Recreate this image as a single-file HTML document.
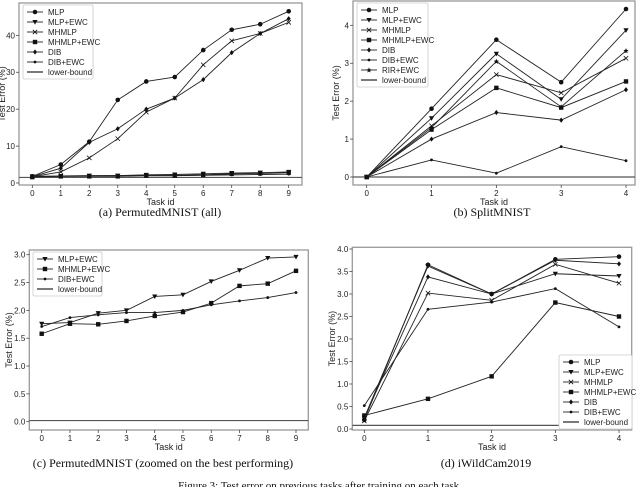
<!DOCTYPE html>
<html><head><meta charset="utf-8"><style>
body{margin:0;background:#fff;width:640px;height:487px;overflow:hidden}
svg{display:block}
.t{font-family:"Liberation Sans",sans-serif;font-size:8px;fill:#222}
.c{font-family:"Liberation Serif",serif;font-size:12px;fill:#111}
</style></head><body>
<svg id="fig" width="640" height="487" xmlns="http://www.w3.org/2000/svg">
<text class="c" x="160" y="216" text-anchor="middle">(a) PermutedMNIST (all)</text>
<text class="c" x="492" y="216" text-anchor="middle">(b) SplitMNIST</text>
<text class="c" x="163" y="467" text-anchor="middle">(c) PermutedMNIST (zoomed on the best performing)</text>
<text class="c" x="486" y="467" text-anchor="middle">(d) iWildCam2019</text>
<text class="c" x="320" y="489" text-anchor="middle" style="font-size:11px">Figure 3: Test error on previous tasks after training on each task.</text>
</svg>
<script>
// (a) PermutedMNIST all
const aTasks=[0,1,2,3,4,5,6,7,8,9];
const aMLP=[1.8,5,11.2,22.5,27.5,28.7,36,41.5,43,46.5];
const aMLPEWC=[1.8,1.9,2,2,2.2,2.3,2.5,2.7,2.8,3.0];
const aMHMLP=[1.7,3,6.8,12,19.2,23,32,38.5,40.5,43.5];
const aMHMLPEWC=[1.6,1.8,1.8,1.8,2,2,2.2,2.5,2.6,2.8];
const aDIB=[1.7,4,11,14.7,20,23,28,35.3,40.5,44.5];
const aDIBEWC=[1.7,1.8,1.9,2,2,2,2.1,2.2,2.3,2.4];
const aLower=1.5;
const aYTicks=[0,10,20,30,40];
// (b) SplitMNIST
const bTasks=[0,1,2,3,4];
const bMLP=[0,1.8,3.62,2.5,4.43];
const bMLPEWC=[0,1.55,3.25,2.05,3.87];
const bMHMLP=[0,1.35,2.7,2.22,3.13];
const bMHMLPEWC=[0,1.25,2.35,1.83,2.52];
const bDIB=[0,1.0,1.7,1.5,2.3];
const bDIBEWC=[0,0.45,0.1,0.8,0.43];
const bRIREWC=[0,1.3,3.05,1.85,3.33];
const bLower=0;
const bYTicks=[0,1,2,3,4];
// (c) zoomed
const cTasks=[0,1,2,3,4,5,6,7,8,9];
const cMLPEWC=[1.76,1.78,1.95,2.0,2.25,2.28,2.52,2.72,2.94,2.96];
const cMHMLPEWC=[1.58,1.76,1.75,1.81,1.9,1.97,2.13,2.44,2.48,2.71];
const cDIBEWC=[1.71,1.87,1.92,1.96,1.96,2.0,2.1,2.17,2.23,2.32];
const cLower=0.02;
const cYTicks=["0.0","0.5","1.0","1.5","2.0","2.5","3.0"];
// (d) iWildCam
const dTasks=[0,1,2,3,4];
const dMLP=[0.2,3.65,3.0,3.77,3.83];
const dMLPEWC=[0.25,3.62,3.0,3.45,3.4];
const dMHMLP=[0.18,3.02,2.86,3.66,3.24];
const dMHMLPEWC=[0.3,0.67,1.17,2.81,2.5];
const dDIB=[0.25,3.38,3.0,3.75,3.67];
const dDIBEWC=[0.52,2.66,2.82,3.12,2.27];
const dLower=0.08;
const dYTicks=["0.0","0.5","1.0","1.5","2.0","2.5","3.0","3.5","4.0"];

const NS='http://www.w3.org/2000/svg';
const svg=document.getElementById('fig');
function mk(tag,attrs,parent){const e=document.createElementNS(NS,tag);for(const k in attrs)e.setAttribute(k,attrs[k]);(parent||svg).appendChild(e);return e;}
function marker(g,type,x,y){
  let e;
  if(type==='o'){e=mk('circle',{cx:x,cy:y,r:2.3,fill:'#111'},g);}
  else if(type==='v'){e=mk('path',{d:`M${x-2.6},${y-2} L${x+2.6},${y-2} L${x},${y+2.6}Z`,fill:'#111'},g);}
  else if(type==='x'){e=mk('path',{d:`M${x-2.2},${y-2.2}L${x+2.2},${y+2.2}M${x-2.2},${y+2.2}L${x+2.2},${y-2.2}`,stroke:'#111','stroke-width':0.8},g);}
  else if(type==='s'){e=mk('rect',{x:x-2.2,y:y-2.2,width:4.4,height:4.4,fill:'#111'},g);}
  else if(type==='d'){e=mk('path',{d:`M${x},${y-2.6}L${x+2},${y}L${x},${y+2.6}L${x-2},${y}Z`,fill:'#111'},g);}
  else if(type==='.'){e=mk('circle',{cx:x,cy:y,r:1.4,fill:'#111'},g);}
  else if(type==='*'){e=mk('path',{d:`M${x},${y-2.6}L${x+0.8},${y-0.8}L${x+2.6},${y-0.6}L${x+1.2},${y+0.7}L${x+1.6},${y+2.5}L${x},${y+1.5}L${x-1.6},${y+2.5}L${x-1.2},${y+0.7}L${x-2.6},${y-0.6}L${x-0.8},${y-0.8}Z`,fill:'#111'},g);}
  
  
}
function chart(id,box,tasks,yMax,yTicks,series,lower,legend){
  const g=mk('g',{});
  
  
  const X=t=>box.x0+(t-tasks[0])/(tasks[tasks.length-1]-tasks[0])*(box.x1-box.x0);
  const Y=v=>box.y0-v/yMax*(box.y0-box.y1);
  const fr=mk('rect',{x:box.l,y:box.t,width:box.r-box.l,height:box.b-box.t,fill:'none',stroke:'#999','stroke-width':1.3},g);
  
  
  tasks.forEach(t=>{
    mk('line',{x1:X(t),x2:X(t),y1:box.b,y2:box.b+3,stroke:'#333','stroke-width':0.7},g);
    const tx=mk('text',{x:X(t),y:box.b+11,'text-anchor':'middle',class:'t'},g);tx.textContent=t;
    
    
  });
  yTicks.forEach(lab=>{
    const v=parseFloat(lab);
    mk('line',{x1:box.l-3,x2:box.l,y1:Y(v),y2:Y(v),stroke:'#333','stroke-width':0.7},g);
    const tx=mk('text',{x:box.l-4,y:Y(v)+3,'text-anchor':'end',class:'t'},g);tx.textContent=lab;
    
    
  });
  const xl=mk('text',{x:(box.l+box.r)/2,y:box.b+20,'text-anchor':'middle',class:'t',style:'font-size:9px'},g);xl.textContent='Task id';
  
  
  const yx=box.yl, yy=(box.t+box.b)/2;
  const yl=mk('text',{x:yx,y:yy,'text-anchor':'middle',class:'t',style:'font-size:9px',transform:`rotate(-90 ${yx} ${yy})`},g);yl.textContent='Test Error (%)';
  
  
  const lb=mk('line',{x1:box.l,x2:box.r,y1:Y(lower),y2:Y(lower),stroke:'#555','stroke-width':1.2},g);
  
  
  series.forEach(s=>{
    const p=mk('polyline',{points:s.v.map((v,i)=>X(tasks[i])+','+Y(v)).join(' '),fill:'none',stroke:'#222','stroke-width':0.9},g);
    
    
    s.v.forEach((v,i)=>marker(g,s.m,X(tasks[i]),Y(v)));
  });
  // legend
  const entries=series.map(s=>({n:s.n,m:s.m})).concat([{n:'lower-bound',m:null}]);
  const h=entries.length*10+4;
  const lr=mk('rect',{x:legend.x,y:legend.y,width:legend.w,height:h,fill:'#fff',stroke:'#ccc','stroke-width':0.8,rx:1.5},g);
  
  
  entries.forEach((e,i)=>{
    const cy=legend.y+7+i*10;
    mk('line',{x1:legend.x+4,x2:legend.x+20,y1:cy,y2:cy,stroke:'#222','stroke-width':e.m?0.9:1.2},g);
    if(e.m)marker(g,e.m,legend.x+12,cy);
    const tx=mk('text',{x:legend.x+25,y:cy+3,class:'t'},g);tx.textContent=e.n;
    
    
  });
}
chart('a',{l:19,r:302,t:3,b:185,x0:32.3,x1:288.7,y0:183,y1:35.3,yl:5},aTasks,40,aYTicks.map(String),
 [{n:'MLP',v:aMLP,m:'o'},{n:'MLP+EWC',v:aMLPEWC,m:'v'},{n:'MHMLP',v:aMHMLP,m:'x'},{n:'MHMLP+EWC',v:aMHMLPEWC,m:'s'},{n:'DIB',v:aDIB,m:'d'},{n:'DIB+EWC',v:aDIBEWC,m:'.'}],aLower,{x:23,y:5,w:70});
chart('b',{l:353,r:635,t:1,b:185,x0:366.7,x1:626,y0:177,y1:25.3,yl:339},bTasks,4,bYTicks.map(String),
 [{n:'MLP',v:bMLP,m:'o'},{n:'MLP+EWC',v:bMLPEWC,m:'v'},{n:'MHMLP',v:bMHMLP,m:'x'},{n:'MHMLP+EWC',v:bMHMLPEWC,m:'s'},{n:'DIB',v:bDIB,m:'d'},{n:'DIB+EWC',v:bDIBEWC,m:'.'},{n:'RIR+EWC',v:bRIREWC,m:'*'}],bLower,{x:357,y:3,w:71});
chart('c',{l:29.3,r:308.3,t:250,b:430,x0:41.7,x1:296,y0:421.7,y1:254.7,yl:12},cTasks,3,cYTicks,
 [{n:'MLP+EWC',v:cMLPEWC,m:'v'},{n:'MHMLP+EWC',v:cMHMLPEWC,m:'s'},{n:'DIB+EWC',v:cDIBEWC,m:'.'}],cLower,{x:33,y:252,w:69});
chart('d',{l:352.3,r:631.7,t:247.3,b:430,x0:364.3,x1:619,y0:429,y1:249,yl:335},dTasks,4,dYTicks,
 [{n:'MLP',v:dMLP,m:'o'},{n:'MLP+EWC',v:dMLPEWC,m:'v'},{n:'MHMLP',v:dMHMLP,m:'x'},{n:'MHMLP+EWC',v:dMHMLPEWC,m:'s'},{n:'DIB',v:dDIB,m:'d'},{n:'DIB+EWC',v:dDIBEWC,m:'.'}],dLower,{x:559,y:355,w:73});
</script>
</body></html>
